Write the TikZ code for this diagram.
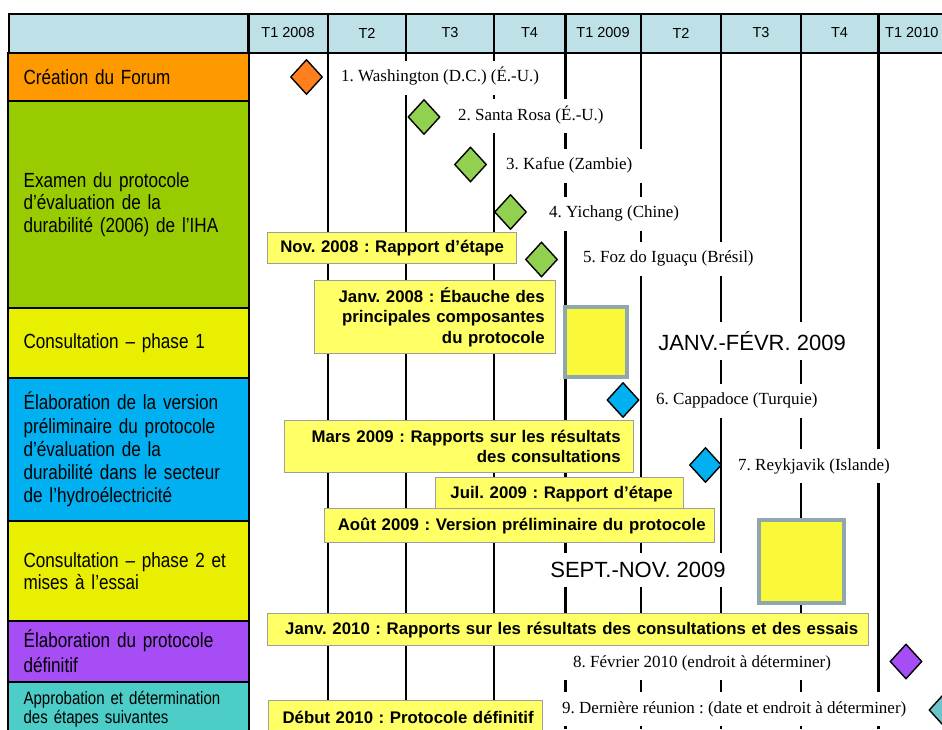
\documentclass[tikz,border=0pt]{standalone}
\usepackage{fontspec}
\setmainfont{Liberation Serif}
\newfontfamily\arial{Liberation Sans}
\newfontfamily\narrow[FakeStretch=0.835]{Liberation Sans}
\usetikzlibrary{shapes.geometric}
\definecolor{headblue}{HTML}{BDE1E6}
\definecolor{rorange}{HTML}{FF9900}
\definecolor{rgreen}{HTML}{99CC00}
\definecolor{ryellow}{HTML}{E8EF00}
\definecolor{rblue}{HTML}{00B0F0}
\definecolor{rpurple}{HTML}{A64DF5}
\definecolor{rteal}{HTML}{4DCDC8}
\definecolor{yfill}{HTML}{FFFF66}
\definecolor{yborder}{HTML}{9E9E9E}
\definecolor{sqfill}{HTML}{F9F93A}
\definecolor{sqborder}{HTML}{8FA7AD}
\definecolor{dorange}{HTML}{FF7F1E}
\definecolor{dgreen}{HTML}{92D050}
\definecolor{dblue}{HTML}{00B0F0}
\definecolor{dpurple}{HTML}{A64DF5}
\definecolor{dteal}{HTML}{6BC5CB}
\tikzset{
  thingrid/.style={line width=1.6pt, black},
  thickgrid/.style={line width=3pt, black},
  hdrlabel/.style={font=\arial\fontsize{14.5}{17}\selectfont, inner sep=0pt},
  rowbox/.style={draw=black, line width=2.2pt, anchor=north west, minimum width=241pt,
     text width=210pt, inner xsep=15.5pt, align=left, font=\narrow\fontsize{20.5}{22.7}\selectfont},
  evt/.style={fill=white, anchor=west, inner xsep=10pt, inner ysep=9pt, text height=12pt, text depth=4pt,
     font=\fontsize{17}{20}\selectfont},
  period/.style={fill=white, inner xsep=8pt, inner ysep=9pt, font=\arial\fontsize{22}{26}\selectfont},
  ybox/.style={draw=yborder, line width=1.3pt, fill=yfill, anchor=north west, inner ysep=0pt,
     align=right, font=\arial\bfseries\fontsize{16.8}{20.3}\selectfont},
  sq/.style={draw=sqborder, line width=4pt, fill=sqfill, inner sep=0pt},
  dia/.style={diamond, draw=black, line width=1.4pt, minimum width=32pt, minimum height=35pt, inner sep=0pt}
}
\begin{document}
\frenchspacing
\begin{tikzpicture}[x=1pt,y=-1pt]
\useasboundingbox (0,0) rectangle (942,729);
% header
\node[draw=black, line width=2pt, fill=headblue, anchor=north west, minimum width=950pt, minimum height=39pt, inner sep=0pt] (hdr) at (8,13) {};
% grid lines
\foreach \x in {328,406,494,641,721,801} \draw[thingrid] (\x,14) -- (\x,729);
\foreach \x in {248,565,878} \draw[thickgrid] (\x,14) -- (\x,729);
% header labels
\node[hdrlabel] (h1) at (288,33) {T1 2008};
\node[hdrlabel] (h2) at (367,33) {T2};
\node[hdrlabel] (h3) at (450,33) {T3};
\node[hdrlabel] (h4) at (529.5,33) {T4};
\node[hdrlabel] (h5) at (603,33) {T1 2009};
\node[hdrlabel] (h6) at (681,33) {T2};
\node[hdrlabel] (h7) at (761,33) {T3};
\node[hdrlabel] (h8) at (839.5,33) {T4};
\node[hdrlabel, anchor=west] (h9) at (885,33) {T1 2010};
% row boxes
\node[rowbox, fill=rorange, minimum height=48pt] (r1) at (7,52) {Création du Forum};
\node[rowbox, fill=rgreen, minimum height=207pt] (r2) at (7,100) {Examen du protocole\\d’évaluation de la\\durabilité (2006) de l’IHA};
\node[rowbox, fill=ryellow, minimum height=70pt] (r3) at (7,307) {Consultation – phase 1};
\node[rowbox, fill=rblue, minimum height=143pt, font=\narrow\fontsize{20.5}{23.3}\selectfont] (r4) at (7,377) {Élaboration de la version\\préliminaire du protocole\\d’évaluation de la\\durabilité dans le secteur\\de l’hydroélectricité};
\node[rowbox, fill=ryellow, minimum height=100pt] (r5) at (7,520) {Consultation – phase 2 et\\mises à l’essai};
\node[rowbox, fill=rpurple, minimum height=61pt, font=\narrow\fontsize{20.5}{25}\selectfont] (r6) at (7,620) {Élaboration du protocole\\définitif};
\node[rowbox, fill=rteal, minimum height=55pt, font=\narrow\fontsize{18}{19}\selectfont] (r7) at (7,681) {Approbation et détermination\\des étapes suivantes};
% event labels
\node[evt] (e1) at (331,77.5) {1. Washington (D.C.) (É.-U.)};
\node[evt] (e2) at (448,116) {2. Santa Rosa (É.-U.)};
\node[evt] (e3) at (496,165.5) {3. Kafue (Zambie)};
\node[evt] (e4) at (539,213.5) {4. Yichang (Chine)};
\node[evt] (e5) at (573,258.5) {5. Foz do Iguaçu (Brésil)};
\node[evt] (e6) at (646,400.5) {6. Cappadoce (Turquie)};
\node[evt] (e7) at (728,466) {7. Reykjavik (Islande)};
\node[evt] (e8) at (563,663) {8. Février 2010 (endroit à déterminer)};
\node[evt] (e9) at (552,709) {9. Dernière réunion : (date et endroit à déterminer)};
% periods
\node[period] (p1) at (752,341) {JANV.-FÉVR. 2009};
\node[period] (p2) at (638,570) {SEPT.-NOV. 2009};
% yellow boxes
\node[ybox, minimum width=249pt, minimum height=31pt, text width=227pt, inner xsep=11pt, align=center] (b1) at (267,232) {Nov. 2008 : Rapport d’étape};
\node[ybox, minimum width=241pt, minimum height=73pt, text width=219pt, inner xsep=11pt] (b2) at (314,280) {Janv. 2008 : Ébauche des\\principales composantes\\du protocole};
\node[ybox, minimum width=349pt, minimum height=52pt, text width=323pt, inner xsep=13pt, font=\arial\bfseries\fontsize{16.8}{20}\selectfont] (b3) at (284,420) {Mars 2009 : Rapports sur les résultats\\des consultations};
\node[ybox, minimum width=248pt, minimum height=33pt, text width=226pt, inner xsep=11pt] (b4) at (435,477) {Juil. 2009 : Rapport d’étape};
\node[ybox, minimum width=390pt, minimum height=34pt, text width=372pt, inner xsep=9pt] (b5) at (324,508) {Août 2009 : Version préliminaire du protocole};
\node[ybox, minimum width=601pt, minimum height=32pt, text width=580pt, inner xsep=10.5pt] (b6) at (267,613) {Janv. 2010 : Rapports sur les résultats des consultations et des essais};
\node[ybox, minimum width=274pt, minimum height=34pt, text width=256pt, inner xsep=9pt] (b7) at (268,700) {Début 2010 : Protocole définitif};
% big squares
\node[sq, minimum width=62pt, minimum height=70pt] (s1) at (596,342) {};
\node[sq, minimum width=85pt, minimum height=83pt] (s2) at (801.5,561) {};
% diamonds
\node[dia, fill=dorange] (d1) at (306.5,77) {};
\node[dia, fill=dgreen] (d2) at (424,117) {};
\node[dia, fill=dgreen] (d3) at (470.5,164.5) {};
\node[dia, fill=dgreen] (d4) at (510.5,212) {};
\node[dia, fill=dgreen] (d5) at (541.5,259.5) {};
\node[dia, fill=dblue] (d6) at (623,400) {};
\node[dia, fill=dblue] (d7) at (705.5,465) {};
\node[dia, fill=dpurple] (d8) at (906,661.5) {};
\node[dia, fill=dteal] (d9) at (945,710) {};
\end{tikzpicture}
\end{document}
